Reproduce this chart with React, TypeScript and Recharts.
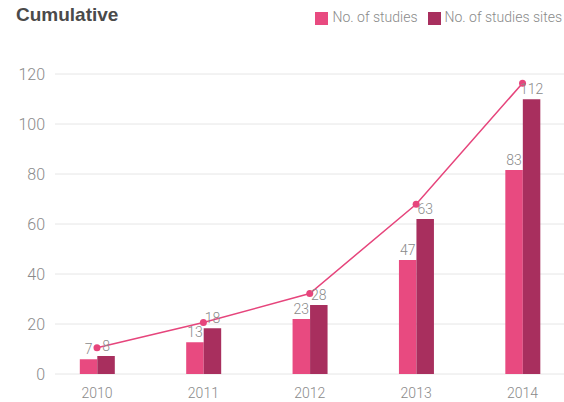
import React from "react";
import {
  ComposedChart,
  Bar,
  Line,
  XAxis,
  YAxis,
  CartesianGrid,
  Legend,
  LabelList,
} from "recharts";

const years = ["2010", "2011", "2012", "2013", "2014"];
const studies = [5.9, 12.7, 22, 45.6, 81.6];
const studiesLabels = [7, 13, 23, 47, 83];
const sites = [7.2, 18.3, 27.6, 62, 109.9];
const sitesLabels = [8, 18, 28, 63, 112];
const trend = [10.5, 20.6, 32.2, 67.9, 116.3];
const yTicks = [0, 20, 40, 60, 80, 100, 120];

const data = years.map((y, i) => ({
  idx: i,
  year: y,
  studies: studies[i],
  studiesLabel: studiesLabels[i],
  sites: sites[i],
  sitesLabel: sitesLabels[i],
  trend: trend[i],
}));

const PINK = "#e84a80";
const DARK = "#a82f5e";
const LINE = "#e6457c";
const TEXT = "#8a8a8a";
const FONT = "Roboto, 'Liberation Sans', sans-serif";

export default function App() {
  return (
    <div
      style={{
        position: "absolute",
        left: 0,
        top: 0,
        width: 564,
        height: 402,
        background: "#fff",
        fontFamily: FONT,
      }}
    >
      <div
        style={{
          position: "absolute",
          left: 16,
          top: 4,
          fontFamily: "'Liberation Sans', Arial, sans-serif",
          fontWeight: 700,
          fontSize: 19,
          color: "#4a4a4a",
          zIndex: 2,
        }}
      >
        Cumulative
      </div>
      <ComposedChart
        width={564}
        height={402}
        data={data}
        margin={{ top: 54, right: 0, bottom: 0, left: 0 }}
        barGap={0}
      >
        <CartesianGrid horizontal vertical={false} stroke="#e6e6e6" strokeWidth={1} />
        <XAxis
          dataKey="idx"
          type="number"
          domain={[-0.3948, 4.39]}
          allowDataOverflow
          ticks={[0, 1, 2, 3, 4]}
          tickFormatter={(v: number) => years[v]}
          axisLine={false}
          tickLine={false}
          tickSize={0}
          tickMargin={14}
          height={28}
          tick={{ fill: TEXT, fontSize: 14, fontFamily: FONT, fontWeight: 300 }}
          interval={0}
        />
        <YAxis
          domain={[0, 120]}
          ticks={yTicks}
          axisLine={false}
          tickLine={false}
          tickSize={0}
          tickMargin={10}
          width={55}
          tick={{ fill: TEXT, fontSize: 16, fontFamily: FONT, fontWeight: 300 }}
        />
        <Legend
          verticalAlign="top"
          align="right"
          iconType="square"
          iconSize={13}
          wrapperStyle={{
            top: 7,
            right: -8,
            fontFamily: FONT,
            fontSize: 14,
            fontWeight: 300,
            lineHeight: "20px",
          }}
          formatter={(value: string) => (
            <span style={{ color: TEXT }}>{value}</span>
          )}
        />
        <Line
          dataKey="trend"
          type="linear"
          stroke={LINE}
          strokeWidth={1.5}
          dot={{ r: 3.5, fill: LINE, stroke: LINE, strokeWidth: 0 }}
          activeDot={false}
          legendType="none"
          isAnimationActive={false}
        />
        <Bar
          dataKey="studies"
          name="No. of studies"
          fill={PINK}
          barSize={17.5}
          isAnimationActive={false}
        >
          <LabelList
            dataKey="studiesLabel"
            position="top"
            offset={5}
            fill={TEXT}
            fontSize={14}
            fontFamily={FONT}
            fontWeight={300}
          />
        </Bar>
        <Bar
          dataKey="sites"
          name="No. of studies sites"
          fill={DARK}
          barSize={17.5}
          isAnimationActive={false}
        >
          <LabelList
            dataKey="sitesLabel"
            position="top"
            offset={5}
            fill={TEXT}
            fontSize={14}
            fontFamily={FONT}
            fontWeight={300}
          />
        </Bar>
      </ComposedChart>
    </div>
  );
}
